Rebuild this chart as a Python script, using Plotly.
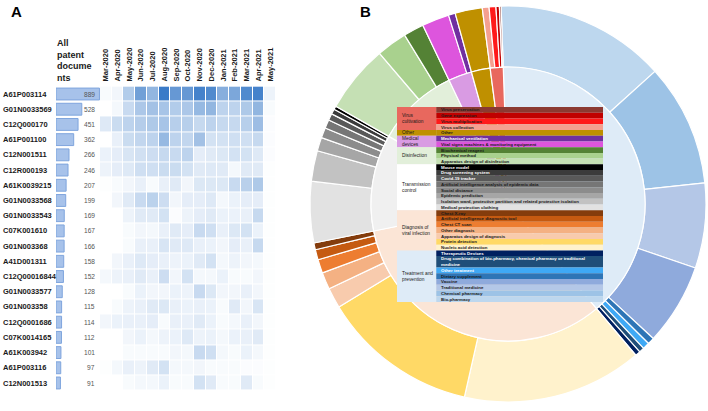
import plotly.graph_objects as go

# ---------------- Panel A data ----------------
codes = ["A61P003114", "G01N0033569", "C12Q000170", "A61P001100", "C12N001511",
         "C12R000193", "A61K0039215", "G01N0033568", "G01N0033543", "C07K001610",
         "G01N003368", "A41D001311", "C12Q00016844", "G01N0033577", "G01N003358",
         "C12Q0001686", "C07K0014165", "A61K003942", "A61P003116", "C12N001513"]
totals = [889, 528, 451, 362, 266, 246, 207, 199, 169, 167, 166, 158, 152, 128, 115,
          114, 112, 101, 97, 91]
months = ["Mar-2020", "Apr-2020", "May-2020", "Jun-2020", "Jul-2020", "Aug-2020",
          "Sep-2020", "Oct-2020", "Nov-2020", "Dec-2020", "Jan-2021", "Feb-2021",
          "Mar-2021", "Apr-2021", "May-2021"]
monthly = [
    [3, 6, 35, 65, 50, 90, 70, 70, 85, 80, 55, 60, 80, 85, 8],
    [0, 5, 25, 38, 42, 40, 35, 38, 48, 50, 30, 30, 37, 50, 3],
    [15, 24, 30, 34, 37, 40, 33, 33, 26, 30, 26, 26, 33, 45, 2],
    [0, 10, 24, 28, 30, 48, 30, 28, 42, 20, 20, 22, 22, 26, 2],
    [9, 12, 18, 21, 23, 26, 25, 30, 12, 14, 16, 20, 20, 15, 2],
    [8, 12, 15, 22, 22, 24, 24, 20, 14, 15, 14, 5, 14, 14, 1],
    [1, 3, 6, 10, 3, 10, 14, 6, 16, 16, 16, 25, 32, 37, 1],
    [0, 6, 14, 25, 31, 23, 6, 12, 12, 15, 5, 9, 12, 12, 1],
    [0, 0, 8, 14, 14, 20, 2, 8, 12, 14, 9, 9, 10, 26, 1],
    [0, 0, 3, 6, 5, 10, 14, 12, 25, 22, 10, 16, 20, 9, 1],
    [0, 0, 3, 10, 10, 18, 14, 15, 10, 9, 6, 12, 10, 26, 1],
    [0, 6, 10, 15, 12, 10, 8, 9, 14, 20, 5, 8, 6, 5, 1],
    [5, 8, 10, 14, 10, 23, 6, 20, 5, 5, 9, 3, 3, 6, 1],
    [0, 0, 3, 9, 6, 6, 9, 8, 25, 16, 6, 6, 10, 6, 1],
    [0, 3, 8, 10, 14, 16, 10, 9, 10, 9, 3, 14, 6, 18, 1],
    [6, 9, 10, 10, 12, 3, 10, 10, 14, 9, 3, 5, 10, 6, 1],
    [0, 0, 6, 9, 5, 8, 9, 15, 8, 9, 5, 9, 10, 14, 1],
    [0, 0, 3, 3, 3, 3, 6, 5, 25, 22, 5, 3, 9, 5, 1],
    [1, 5, 10, 8, 14, 20, 5, 5, 6, 3, 3, 3, 2, 2, 1],
    [0, 0, 3, 5, 5, 9, 3, 3, 20, 14, 3, 3, 14, 3, 1],
]

# ---------------- Panel B data (clockwise from 12 o'clock) ----------------
cat_names = ["Treatment and<br>prevention", "Diagnosis of<br>viral infection",
             "Transmission<br>control", "Disinfection", "Medical<br>devices", "Other",
             "Virus<br>cultivation"]
cat_colors = ["#deebf7", "#fbe5d6", "#f0f0f0", "#e2efda", "#d99be3", "#bf9000", "#e8685e"]
table_cat_colors = ["#deebf7", "#fbe5d6", "#ffffff", "#e2efda", "#d99be3", "#bf9000", "#e8685e"]

treat_names = ["Bio-pharmacy", "Chemical pharmacy", "Traditional medicine", "Vaccine",
               "Dietary supplement", "Other treatment",
               "Drug combination of bio-pharmacy, chemical pharmacy or traditional<br>medicine",
               "Therapeutic Devices"]
treat_values = [500, 360, 250, 240, 20, 20, 15, 15]
treat_colors = ["#bdd7ee", "#9dc3e6", "#b4c7e7", "#8faadc", "#2e75b6", "#3fa9f5", "#1f4e79", "#002060"]

diag_names = ["Nucleic acid detection", "Protein detection", "Apparatus design of diagnosis",
              "Other diagnosis", "Chest CT scan", "Artificial intelligence diagnostic tool",
              "Chest X-ray"]
diag_values = [530, 460, 60, 50, 40, 30, 20]
diag_colors = ["#fff2cc", "#ffd966", "#f8cbad", "#f4b183", "#ed7d31", "#c55a11", "#843c0c"]

trans_names = ["Medical protection clothing",
               "Isolation ward, protective partition and related protective isolation",
               "Epidemic prediction", "Social distance",
               "Artificial intelligence analysis of epidemic data", "Covid-19 tracker",
               "Drug screening system", "Mouse model"]
trans_values = [180, 90, 40, 30, 25, 20, 15, 10]
trans_colors = ["#e2e2e2", "#c2c2c2", "#a6a6a6", "#8c8c8c", "#767676", "#595959", "#3b3b3b", "#000000"]

disinf_names = ["Apparatus design of disinfection", "Physical method", "Biochemical reagent"]
disinf_values = [200, 90, 60]
disinf_colors = ["#c5e0b4", "#a9d18e", "#548235"]

med_names = ["Vital signs machines & monitoring equipment", "Mechanical ventilation"]
med_values = [80, 20]
med_colors = ["#dd55dd", "#7030a0"]

other_names = ["Other"]
other_values = [80]
other_colors = ["#bf9000"]

virus_names = ["Virus collection", "Virus multiplication", "Gene expression", "Virus preservation"]
virus_values = [20, 20, 10, 5]
virus_colors = ["#f4a090", "#ff1a1a", "#c00000", "#8b3a32"]

light_text = {"Mouse model", "Drug screening system", "Covid-19 tracker", "Therapeutic Devices",
              treat_names[6], "Other treatment", "Mechanical ventilation"}

groups = [(treat_names, treat_values, treat_colors), (diag_names, diag_values, diag_colors),
          (trans_names, trans_values, trans_colors), (disinf_names, disinf_values, disinf_colors),
          (med_names, med_values, med_colors), (other_names, other_values, other_colors),
          (virus_names, virus_values, virus_colors)]

outer_values, outer_colors = [], []
cat_values = []
for names, vals, cols in groups:
    outer_values += vals
    outer_colors += cols
    cat_values.append(sum(vals))

W, H = 708, 411
FONT = "Liberation Sans, Arial, sans-serif"

fig = go.Figure()

# ---------------- Panel A ----------------
fig.add_trace(go.Bar(x=totals, y=codes, orientation="h", xaxis="x", yaxis="y",
                     width=0.78, marker=dict(color="#a7c2ea", line=dict(color="#7fa5dd", width=1)),
                     hoverinfo="skip", showlegend=False))
fig.add_trace(go.Heatmap(z=monthly, x=months, y=codes, xaxis="x2", yaxis="y",
                         xgap=1, ygap=1, zmin=0, zmax=90, showscale=False,
                         colorscale=[[0, "#ffffff"], [1, "#3a7bc8"]], hoverinfo="skip"))

# ---------------- Panel B pies ----------------
cx, cy, R, r_in = 508, 207, 198, 137  # centre (px from left / bottom), radii
fig.add_trace(go.Pie(values=outer_values, marker=dict(colors=outer_colors, line=dict(color="white", width=1.2)),
                     domain=dict(x=[(cx - R) / W, (cx + R) / W], y=[(cy - R) / H, (cy + R) / H]),
                     hole=r_in / R, sort=False, direction="clockwise", rotation=-2,
                     textinfo="none", hoverinfo="skip", showlegend=False))
fig.add_trace(go.Pie(values=cat_values, marker=dict(colors=cat_colors, line=dict(color="white", width=1.2)),
                     domain=dict(x=[(cx - r_in) / W, (cx + r_in) / W], y=[(cy - r_in) / H, (cy + r_in) / H]),
                     sort=False, direction="clockwise", rotation=-2,
                     textinfo="none", hoverinfo="skip", showlegend=False))

# ---------------- Panel B table (drawn on its own axes, above the pies) ----------------
table_rows = []   # (name, color, category index) in table order (top to bottom)
for ci in range(len(groups) - 1, -1, -1):
    names, vals, cols = groups[ci]
    for n, c in zip(names[::-1], cols[::-1]):
        table_rows.append((n, c, ci))
spans = [n.count("<br>") + 1 for n, _, _ in table_rows]
n_units = sum(spans)
cat_w = 0.19

fig.add_trace(go.Scatter(x=[0, 1], y=[0, n_units], xaxis="x3", yaxis="y3", mode="markers",
                         marker=dict(opacity=0), hoverinfo="skip", showlegend=False))

shapes, annotations = [], []
pos = 0
cat_ranges = {}
for (name, col, ci), sp in zip(table_rows, spans):
    shapes.append(dict(type="rect", xref="x3", yref="y3", x0=cat_w, x1=1, y0=pos, y1=pos + sp,
                       fillcolor=col, line=dict(width=0), layer="above"))
    annotations.append(dict(xref="x3", yref="y3", x=cat_w + 0.012, y=pos + sp / 2, text=name,
                            xanchor="left", yanchor="middle", showarrow=False, align="left",
                            font=dict(family=FONT, size=4.4, weight="bold",
                                      color="#ffffff" if name in light_text else "#1a1a1a")))
    lo, hi = cat_ranges.get(ci, (pos, pos))
    cat_ranges[ci] = (min(lo, pos), max(hi, pos + sp))
    pos += sp
for ci, (lo, hi) in cat_ranges.items():
    shapes.append(dict(type="rect", xref="x3", yref="y3", x0=0, x1=cat_w, y0=lo, y1=hi,
                       fillcolor=table_cat_colors[ci], line=dict(width=0), layer="above"))
    annotations.append(dict(xref="x3", yref="y3", x=0.015, y=(lo + hi) / 2, text=cat_names[ci],
                            xanchor="left", yanchor="middle", showarrow=False, align="left",
                            font=dict(family=FONT, size=4.8, color="#1a1a1a")))

# ---------------- Panel A text ----------------
for code, tot in zip(codes, totals):
    annotations.append(dict(xref="paper", yref="y", x=1 / W, y=code, text=code, xanchor="left",
                            yanchor="middle", showarrow=False,
                            font=dict(family=FONT, size=7.5, weight="bold", color="#1a1a1a")))
    annotations.append(dict(xref="paper", yref="y", x=97 / W, y=code, text=str(tot), xanchor="right",
                            yanchor="middle", showarrow=False,
                            font=dict(family=FONT, size=6.6, color="#555555")))
annotations.append(dict(xref="paper", yref="paper", x=55 / W, y=1 - 36 / H, text="All<br>patent<br>docume<br>nts",
                        xanchor="left", yanchor="top", showarrow=False, align="left",
                        font=dict(family=FONT, size=9, weight="bold", color="#1a1a1a")))
annotations.append(dict(xref="paper", yref="paper", x=9 / W, y=1 - 1 / H, text="A", xanchor="left",
                        yanchor="top", showarrow=False, font=dict(family=FONT, size=15, weight="bold", color="#000")))
annotations.append(dict(xref="paper", yref="paper", x=358 / W, y=1 - 1 / H, text="B", xanchor="left",
                        yanchor="top", showarrow=False, font=dict(family=FONT, size=15, weight="bold", color="#000")))

row_top, row_bot = 86.4, 390.6
fig.update_layout(
    width=W, height=H, margin=dict(l=0, r=0, t=0, b=0, autoexpand=False), autosize=False,
    paper_bgcolor="white", plot_bgcolor="white", showlegend=False,
    xaxis=dict(domain=[56 / W, 100 / W], range=[0, 900], visible=False, anchor="y", automargin=False),
    yaxis=dict(domain=[1 - row_bot / H, 1 - row_top / H], type="category", categoryorder="array",
               categoryarray=codes, autorange="reversed", showticklabels=False, showgrid=False,
               zeroline=False, showline=False, ticks="", anchor="x", automargin=False),
    xaxis2=dict(domain=[100 / W, 276 / W], anchor="y", side="top", tickangle=-90, showgrid=False,
                zeroline=False, showline=False, ticks="", automargin=False, ticklabelstandoff=4,
                tickfont=dict(family=FONT, size=7.5, weight="bold", color="#1a1a1a")),
    xaxis3=dict(domain=[397 / W, 603 / W], range=[0, 1], visible=False, anchor="y3", automargin=False),
    yaxis3=dict(domain=[1 - 302 / H, 1 - 107 / H], range=[n_units, 0], visible=False, anchor="x3",
                automargin=False),
    shapes=shapes, annotations=annotations,
)

fig.write_html("out.html", config={"displayModeBar": False},
               post_script="document.body.style.margin='0px';document.body.style.padding='0px';")
